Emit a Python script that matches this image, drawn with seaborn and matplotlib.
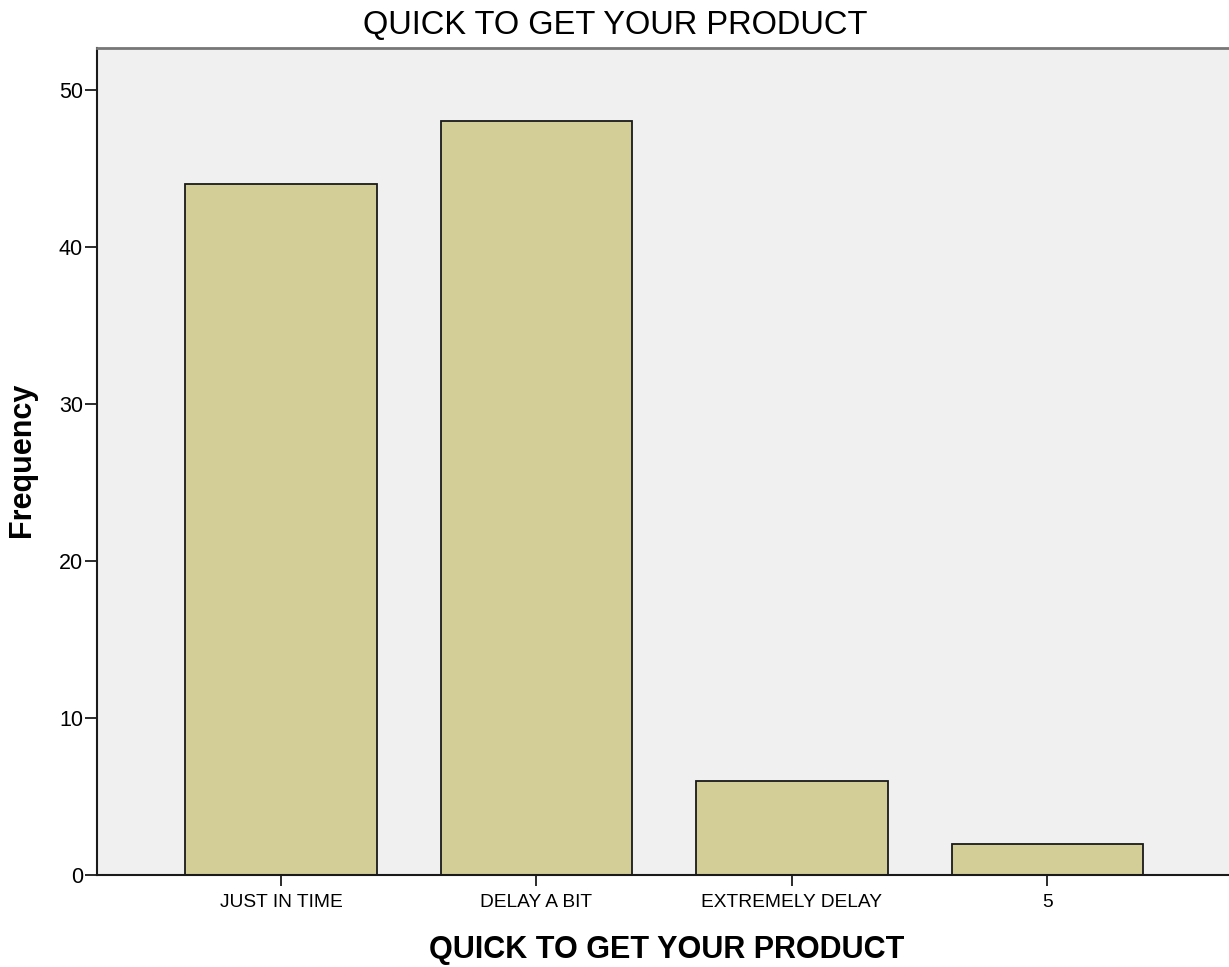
import matplotlib
matplotlib.use("Agg")
import matplotlib.pyplot as plt
import seaborn as sns
import pandas as pd

categories = ["JUST IN TIME", "DELAY A BIT", "EXTREMELY DELAY", "5"]
frequencies = [44, 48, 6, 2]
y_ticks = [0, 10, 20, 30, 40, 50]
title = "QUICK TO GET YOUR PRODUCT"

sns.set_theme(style="white")
plt.rcParams['font.family'] = ['Liberation Sans', 'DejaVu Sans']
plt.rcParams['text.color'] = 'black'
plt.rcParams['axes.labelcolor'] = 'black'

df = pd.DataFrame({"cat": categories, "freq": frequencies})

fig = plt.figure(figsize=(12.29, 9.67), dpi=100)
ax = fig.add_axes([97/1229, (967-875)/967, 1 - 97/1229 + 0.002, (875-48)/967])
ax.set_facecolor("#F0F0F0")

sns.barplot(data=df, x="cat", y="freq", order=categories, color="#D3CE97",
            saturation=1, width=0.75, edgecolor="#1a1a1a", linewidth=1.3, ax=ax)

ax.set_xlim(-0.72, 3.72)
ax.set_ylim(0, 52.65)
ax.set_yticks(y_ticks)
ax.set_yticklabels([str(t) for t in y_ticks], fontsize=15.5)
ax.tick_params(axis="both", direction="out", width=1.3, colors="#1a1a1a",
               labelcolor="black", left=True, bottom=True)
ax.tick_params(axis="y", length=9, pad=1)
ax.tick_params(axis="x", length=8, pad=6, labelsize=13.8)

for s in ["left", "bottom"]:
    ax.spines[s].set_color("#1a1a1a")
    ax.spines[s].set_linewidth(1.5)
ax.spines["top"].set_color("#777777")
ax.spines["top"].set_linewidth(2)
ax.spines["right"].set_visible(False)

ax.set_xlabel(title, fontsize=22, fontweight="bold", va="center")
ax.xaxis.set_label_coords((665 - 97) / 1132, (875 - 950) / 827)
ax.set_ylabel("Frequency", fontsize=22, fontweight="bold", va="center")
ax.yaxis.set_label_coords((22 - 97) / 1132, (875 - 460) / 827)

fig.text(615 / 1229, 1 - 25 / 967, title, fontsize=23.5, ha="center", va="center",
         color="black")

fig.savefig("out.png", dpi=100, facecolor="white")
